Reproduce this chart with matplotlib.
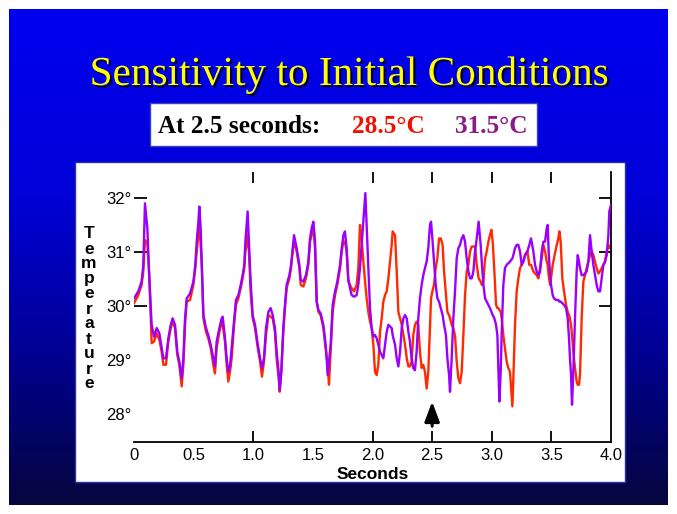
import numpy as np
import matplotlib
matplotlib.use("Agg")
import matplotlib.pyplot as plt
import matplotlib.patheffects as pe
from matplotlib.patches import Rectangle

# time (s) and the two temperature runs (deg C)
seconds = [
    0.000, 0.036, 0.064, 0.078, 0.092, 0.112, 0.123, 0.134, 0.148, 0.168,
    0.190, 0.213, 0.232, 0.246, 0.268, 0.288, 0.308, 0.324, 0.344, 0.363,
    0.380, 0.400, 0.414, 0.428, 0.442, 0.470, 0.498, 0.514, 0.526, 0.540,
    0.548, 0.559, 0.568, 0.582, 0.604, 0.623, 0.643, 0.665, 0.679,
    0.693, 0.716, 0.735, 0.744, 0.763, 0.777, 0.791, 0.805, 0.819, 0.839,
    0.855, 0.875, 0.895, 0.911, 0.925, 0.934, 0.945, 0.953, 0.964, 0.978,
    0.995, 1.015, 1.034, 1.057, 1.073, 1.090, 1.107, 1.127, 1.146, 1.163,
    1.182, 1.196, 1.213, 1.222, 1.236, 1.252, 1.266, 1.280, 1.303, 1.317,
    1.331, 1.342,
    1.364, 1.387, 1.398, 1.420, 1.442, 1.462, 1.476, 1.490, 1.504, 1.518,
    1.532, 1.546, 1.565, 1.588, 1.610, 1.624, 1.635, 1.649, 1.666, 1.686,
    1.705, 1.728, 1.742, 1.756, 1.769, 1.783, 1.797, 1.811, 1.825, 1.845,
    1.867, 1.881, 1.895, 1.909, 1.923, 1.940, 1.951, 1.965, 1.979, 1.993,
    2.007, 2.021,
    2.035, 2.049, 2.063, 2.077, 2.091, 2.105, 2.119, 2.133, 2.147, 2.161,
    2.169, 2.189, 2.203, 2.217, 2.231, 2.245, 2.259, 2.273, 2.287, 2.301,
    2.314, 2.328, 2.342, 2.356, 2.370, 2.384, 2.398, 2.412, 2.426, 2.440,
    2.454, 2.468, 2.482, 2.491, 2.502, 2.516, 2.530, 2.544, 2.558, 2.572,
    2.588, 2.600, 2.616, 2.628, 2.642, 2.650, 2.664, 2.678, 2.692,
    2.706, 2.720, 2.734, 2.748, 2.762, 2.776, 2.790, 2.804, 2.818, 2.832,
    2.846, 2.860, 2.874, 2.890, 2.907, 2.916, 2.930, 2.944, 2.958, 2.972,
    2.985, 2.997, 3.008, 3.022, 3.036, 3.047, 3.055, 3.064, 3.075, 3.083,
    3.097, 3.111, 3.125, 3.139, 3.153, 3.173, 3.181, 3.195, 3.209, 3.223,
    3.237, 3.251, 3.265, 3.279, 3.299, 3.315, 3.329,
    3.349, 3.363, 3.377, 3.391, 3.405, 3.419, 3.433, 3.447, 3.461, 3.469,
    3.477, 3.489, 3.497, 3.511, 3.522, 3.539, 3.558, 3.567, 3.578, 3.592,
    3.606, 3.623, 3.637, 3.648, 3.656, 3.665, 3.673, 3.684, 3.698, 3.712,
    3.721, 3.732, 3.740, 3.754, 3.768, 3.782, 3.796, 3.810, 3.824, 3.838,
    3.852, 3.866, 3.880, 3.894, 3.908, 3.922, 3.936, 3.950, 3.964, 3.978,
    3.986, 4.000,
]

purple_run = [
    30.14, 30.27, 30.45, 30.76, 31.90, 31.44, 30.82, 30.27, 29.65, 29.43,
    29.59, 29.49, 29.22, 29.03, 29.03, 29.40, 29.65, 29.77, 29.65, 29.15,
    28.97, 28.66, 29.03, 29.77, 30.14, 30.23, 30.45, 30.76, 31.19, 31.56,
    31.84, 31.44, 30.82, 29.83, 29.59, 29.46, 29.28, 29.03, 28.88,
    29.34, 29.59, 29.77, 29.80, 29.40, 29.03, 28.78, 28.88, 29.22, 29.71,
    30.11, 30.20, 30.39, 30.57, 30.76, 31.19, 31.50, 31.75, 31.19, 30.45,
    29.83, 29.65, 29.34, 29.03, 28.85, 29.03, 29.59, 29.89, 29.96, 29.83,
    29.59, 29.15, 28.78, 28.44, 28.78, 29.59, 30.02, 30.39, 30.57, 30.76,
    31.07, 31.31,
    31.07, 30.76, 30.48, 30.45, 30.57, 30.82, 31.25, 31.44, 31.56, 31.19,
    30.08, 29.93, 29.86, 29.65, 29.22, 28.72, 28.97, 29.28, 30.02, 30.27,
    30.45, 30.76, 31.07, 31.31, 31.38, 31.07, 30.51, 30.33, 30.20, 30.17,
    30.20, 30.39, 30.70, 31.13, 31.56, 32.09, 31.50, 30.76, 29.96, 29.59,
    29.43, 29.46,
    29.40, 29.28, 29.15, 29.09, 29.03, 29.28, 29.52, 29.65, 29.62, 29.59,
    29.46, 29.28, 29.03, 28.88, 29.15, 29.59, 29.77, 29.83, 29.77, 29.52,
    29.34, 29.03, 28.85, 28.81, 29.15, 29.77, 30.14, 30.39, 30.57, 30.70,
    30.82, 31.07, 31.50, 31.56, 31.25, 30.82, 30.39, 30.14, 30.08, 29.96,
    29.83, 29.65, 29.46, 29.03, 28.72, 28.41, 29.03, 29.77, 30.27,
    30.88, 31.07, 31.13, 31.25, 31.31, 31.19, 30.88, 30.64, 30.51, 30.51,
    30.64, 31.01, 31.25, 31.56, 31.13, 30.82, 30.39, 30.14, 30.08, 30.02,
    29.96, 29.89, 29.83, 29.77, 29.65, 29.46, 28.91, 28.23, 28.78, 29.46,
    30.39, 30.70, 30.76, 30.79, 30.82, 30.88, 30.94, 31.07, 31.13, 31.13,
    31.01, 30.76, 30.82, 30.94, 31.01, 31.13, 31.25,
    31.01, 30.76, 30.64, 30.57, 30.64, 31.01, 31.19, 31.19, 31.44, 31.50,
    31.01, 30.57, 30.39, 30.20, 30.14, 30.11, 30.11, 30.08, 30.08, 30.05,
    30.02, 29.96, 29.77, 29.40, 29.03, 28.72, 28.17, 28.78, 29.77, 30.64,
    30.94, 30.82, 30.70, 30.57, 30.57, 30.60, 30.64, 30.82, 31.31, 31.01,
    30.76, 30.57, 30.39, 30.27, 30.27, 30.51, 30.76, 30.82, 30.94, 31.31,
    31.75, 31.87,
]

red_run = [
    30.05, 30.20, 30.39, 30.64, 31.22, 31.16, 30.76, 30.20, 29.31, 29.34,
    29.49, 29.37, 29.15, 28.91, 28.91, 29.34, 29.59, 29.71, 29.59, 29.09,
    28.91, 28.51, 28.91, 29.65, 30.08, 30.11, 30.39, 30.70, 31.01, 31.31,
    31.50, 31.13, 30.76, 29.77, 29.52, 29.40, 29.22, 28.91, 28.75,
    29.22, 29.52, 29.71, 29.65, 29.34, 28.91, 28.60, 28.78, 29.03, 29.65,
    30.02, 30.14, 30.33, 30.51, 30.70, 31.01, 31.13, 31.31, 31.01, 30.27,
    29.77, 29.59, 29.28, 28.97, 28.69, 28.97, 29.46, 29.83, 29.80, 29.77,
    29.52, 29.03, 28.66, 28.41, 28.85, 29.52, 29.96, 30.33, 30.51, 30.70,
    31.01, 31.19,
    31.01, 30.70, 30.39, 30.36, 30.51, 30.76, 31.19, 31.31, 31.50, 31.07,
    30.08, 29.89, 29.83, 29.59, 29.15, 28.91, 28.54, 29.15, 29.89, 30.20,
    30.39, 30.70, 31.01, 31.19, 31.19, 31.01, 30.45, 30.39, 30.33, 30.27,
    30.39, 30.70, 31.50, 31.25, 30.82, 30.39, 30.14, 29.89, 29.71, 29.59,
    29.28, 28.78,
    28.72, 28.91, 29.52, 29.77, 30.08, 30.20, 30.27, 30.51, 30.82, 31.13,
    31.38, 31.31, 30.64, 29.89, 29.77, 29.65, 29.46, 29.28, 29.03, 28.88,
    28.88, 28.97, 29.46, 29.65, 29.71, 29.65, 29.15, 28.85, 28.91, 28.78,
    28.47, 28.78, 29.59, 30.14, 30.27, 30.39, 30.70, 30.88, 31.25, 31.25,
    31.13, 30.64, 30.20, 29.89, 29.83, 29.77, 29.65, 29.59, 29.45,
    28.97, 28.66, 28.57, 28.78, 29.46, 30.20, 30.64, 30.76, 31.01, 31.10,
    31.10, 31.10, 30.76, 30.51, 30.45, 30.39, 30.45, 30.88, 31.01, 31.19,
    31.31, 31.41, 31.19, 30.64, 30.02, 29.96, 29.96, 29.93, 29.89, 29.77,
    29.46, 29.22, 28.97, 28.85, 28.78, 28.14, 28.66, 29.65, 30.27, 30.51,
    30.70, 30.76, 30.82, 30.94, 31.01, 30.76, 30.76,
    30.64, 30.60, 30.57, 30.51, 30.70, 30.88, 31.13, 31.01, 30.82, 30.76,
    30.57, 30.39, 30.51, 30.76, 30.88, 31.07, 31.25, 31.38, 31.19, 30.51,
    30.27, 30.02, 29.89, 29.83, 29.77, 29.65, 29.46, 29.15, 28.85, 28.60,
    28.54, 28.54, 28.72, 29.77, 30.45, 30.57, 30.70, 30.82, 30.94, 31.01,
    30.94, 30.82, 30.70, 30.60, 30.64, 30.70, 30.76, 30.82, 31.01, 31.13,
    31.07, 31.13,
]

x_ticks = [0, 0.5, 1.0, 1.5, 2.0, 2.5, 3.0, 3.5, 4.0]
x_labels = ["0", "0.5", "1.0", "1.5", "2.0", "2.5", "3.0", "3.5", "4.0"]
x_marked = [1.0, 2.0, 2.5, 3.0, 3.5]
y_ticks = [28, 29, 30, 31, 32]
y_labels = ["28°", "29°", "30°", "31°", "32°"]
y_marked = [30, 31, 32]

W, H = 677, 514
fig = plt.figure(figsize=(W / 100, H / 100), dpi=100)
fig.patch.set_facecolor("white")

def fx(px):
    return px / W

def fy(py):
    return 1 - py / H

###### blue gradient background
bg = fig.add_axes([fx(9), fy(505), fx(668) - fx(9), fy(9) - fy(505)], zorder=-1)
rows = np.linspace(0, 1, 256)
stops_pos = [0.0, 0.38, 0.68, 1.0]
stops_b = [240, 215, 150, 62]
stops_rg = [0, 0, 0, 6]
b = np.interp(rows, stops_pos, stops_b) / 255
rg = np.interp(rows, stops_pos, stops_rg) / 255
grad = np.stack([rg, rg, b], axis=1)[:, None, :]
bg.imshow(grad, aspect="auto", extent=[0, 1, 0, 1], origin="upper")
bg.axis("off")

###### title with drop shadow
fig.text(fx(349), fy(85), "Sensitivity to Initial Conditions", fontsize=29.7,
         family="Liberation Serif", color="#ffff00", ha="center", va="baseline", zorder=3,
         path_effects=[pe.withSimplePatchShadow(offset=(1.6, -1.6), shadow_rgbFace="#000020",
                                                 alpha=0.9)])

###### subtitle box
fig.patches.append(Rectangle((fx(150), fy(146)), fx(537) - fx(150), fy(103) - fy(146),
                             transform=fig.transFigure, facecolor="white",
                             edgecolor="#4040c0", lw=1, zorder=1))
sub_kw = dict(fontsize=18.2, family="Liberation Serif", weight="bold", va="baseline", zorder=3)
fig.text(fx(158), fy(133), "At 2.5 seconds:", color="black", **sub_kw)
fig.text(fx(352), fy(133), "28.5°C", color="#f01000", **sub_kw)
fig.text(fx(455), fy(133), "31.5°C", color="#8a1a8a", **sub_kw)

###### chart panel
fig.patches.append(Rectangle((fx(75), fy(482)), fx(625) - fx(75), fy(162) - fy(482),
                             transform=fig.transFigure, facecolor="white",
                             edgecolor="#3030a0", lw=1, zorder=1))

ax = fig.add_axes([fx(134), fy(442), fx(611) - fx(134), fy(172) - fy(442)], zorder=5)
ax.patch.set_visible(False)
ax.plot(seconds, red_run, color="#ff2a00", lw=1.7, zorder=2)
ax.plot(seconds, purple_run, color="#9b00ff", lw=1.7, zorder=3)

ax.set_xlim(0, 4.0)
ax.set_ylim(27.48, 32.48)
for s in ["left", "top"]:
    ax.spines[s].set_visible(False)
for s in ["bottom", "right"]:
    ax.spines[s].set_linewidth(1.3)

ax.set_xticks(x_ticks)
ax.set_xticklabels(x_labels, fontsize=12, family="Liberation Sans")
ax.set_yticks(y_ticks)
ax.set_yticklabels(y_labels, fontsize=12, family="Liberation Sans")
ax.tick_params(axis="x", direction="in", length=8, width=1.3, top=True, pad=4)
ax.tick_params(axis="y", direction="in", length=9, width=1.3, right=True, pad=2)
for val, tk in zip(x_ticks, ax.xaxis.get_major_ticks()):
    if val not in x_marked:
        tk.tick1line.set_visible(False)
        tk.tick2line.set_visible(False)
for val, tk in zip(y_ticks, ax.yaxis.get_major_ticks()):
    if val not in y_marked:
        tk.tick1line.set_visible(False)
        tk.tick2line.set_visible(False)

ax.set_xlabel("Seconds", fontsize=12.5, family="Liberation Sans", weight="bold", labelpad=3)
fig.text(fx(89), fy(309), "\n".join("Temperature"), fontsize=12.5, family="Liberation Sans",
         weight="bold", ha="center", va="center", linespacing=1.0, zorder=6)

# arrow marking 2.5 seconds
ax.annotate("", xy=(2.5, 28.28), xytext=(2.5, 27.72),
            arrowprops=dict(arrowstyle="-|>,head_length=1.2,head_width=0.45",
                            mutation_scale=10, lw=2.2, color="black"))

fig.savefig("out.png", dpi=100, facecolor=fig.get_facecolor())
